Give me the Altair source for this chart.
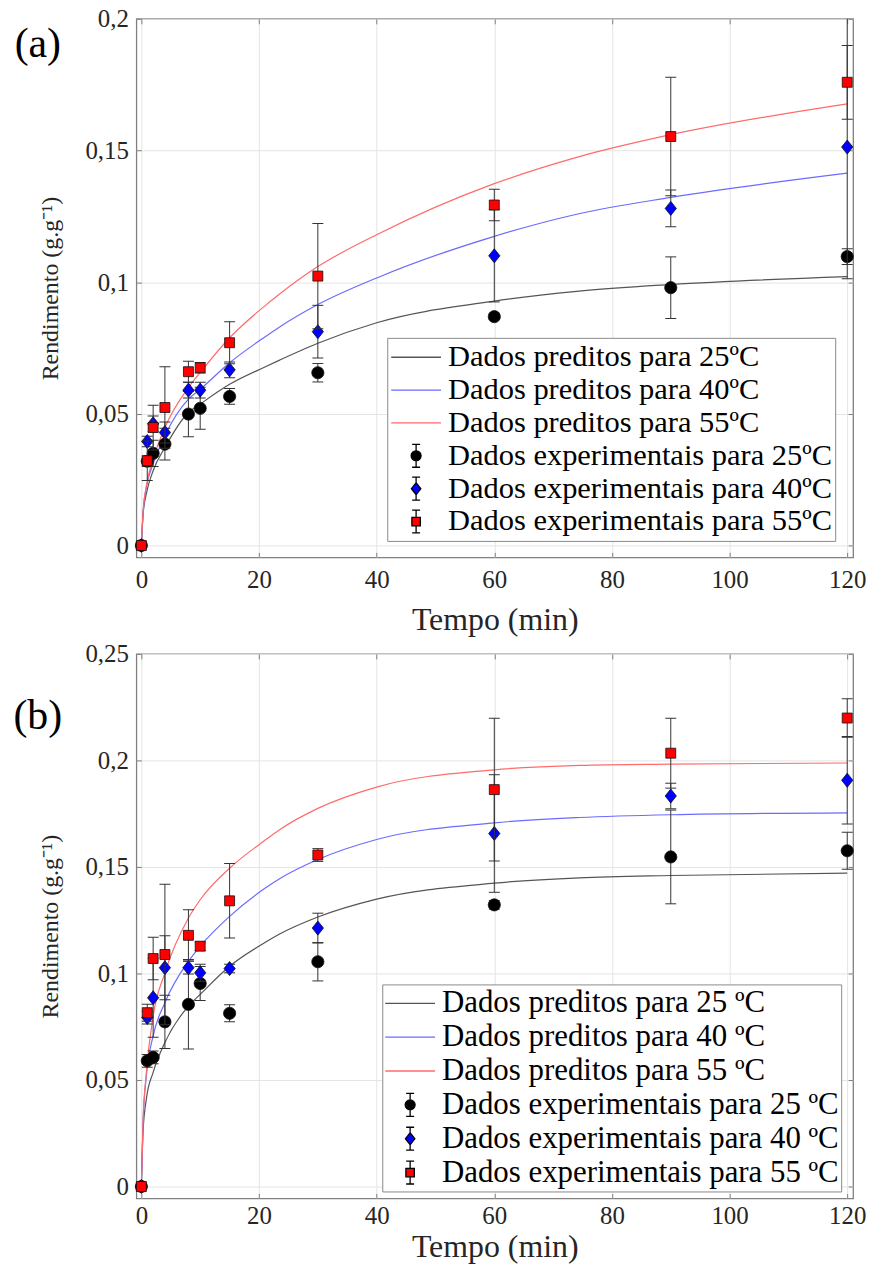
import altair as alt
import pandas as pd

FONT = "Liberation Serif"

# ---------------- data ----------------
t_exp = [0, 1, 2, 4, 8, 10, 15, 30, 60, 90, 120]

# panel (a)
a_exp_25 = [0, 0.032, 0.035, 0.0385, 0.0499, 0.0521, 0.0566, 0.0656, 0.0869, 0.0979, 0.1097]
a_err_25 = [0, 0.002, 0.005, 0.006, 0.0086, 0.008, 0.003, 0.0035, 0.001, 0.0117, 0.003]
a_exp_40 = [0, 0.0395, 0.0462, 0.0429, 0.059, 0.059, 0.0667, 0.0812, 0.110, 0.128, 0.1513]
a_err_40 = [0, 0.002, 0.003, 0.004, 0.003, 0.003, 0.003, 0.010, 0.0175, 0.007, 0.05]
a_exp_55 = [0, 0.0322, 0.0448, 0.0524, 0.066, 0.0675, 0.077, 0.1023, 0.1293, 0.1553, 0.1759]
a_err_55 = [0, 0.0075, 0.0085, 0.0155, 0.004, 0.002, 0.008, 0.020, 0.006, 0.0225, 0.014]

t_fit_a = [0, 0.3, 0.85, 2, 4, 8, 10, 15, 21, 23.5, 30, 40, 60, 74, 90, 120]
a_fit_25 = [0, 0.012, 0.0197, 0.0284, 0.0372, 0.0505, 0.0537, 0.0612, 0.0678, 0.0704, 0.0768, 0.0846, 0.0928, 0.0965, 0.0991, 0.1021]
a_fit_40 = [0, 0.013, 0.0221, 0.031, 0.0417, 0.0556, 0.0593, 0.0694, 0.0792, 0.0830, 0.0915, 0.1016, 0.1174, 0.1258, 0.1322, 0.1414]
a_fit_55 = [0, 0.013, 0.0227, 0.0328, 0.0448, 0.060, 0.0657, 0.0789, 0.0910, 0.0955, 0.1059, 0.118, 0.1374, 0.1474, 0.156, 0.1677]

# panel (b)
b_exp_25 = [0, 0.059, 0.0606, 0.0773, 0.0855, 0.0953, 0.0813, 0.1055, 0.1322, 0.1547, 0.1576]
b_err_25 = [0, 0.003, 0.003, 0.0125, 0.021, 0.008, 0.004, 0.009, 0.002, 0.022, 0.0087]
b_exp_40 = [0, 0.0793, 0.0886, 0.1027, 0.1027, 0.1003, 0.1023, 0.1213, 0.1657, 0.1833, 0.1907]
b_err_40 = [0, 0.003, 0.0185, 0.015, 0.003, 0.004, 0.002, 0.007, 0.0276, 0.006, 0.0205]
b_exp_55 = [0, 0.0816, 0.107, 0.1089, 0.1179, 0.1128, 0.1341, 0.1556, 0.1863, 0.2034, 0.2199]
b_err_55 = [0, 0.004, 0.010, 0.033, 0.012, 0.002, 0.0175, 0.003, 0.0335, 0.0164, 0.009]

t_fit_b = [0, 0.28, 0.85, 2, 4, 8, 10, 15, 21, 23.5, 30, 40, 60, 74.5, 90, 120]
b_fit_25 = [0, 0.0256, 0.0411, 0.0536, 0.0676, 0.0847, 0.0902, 0.1034, 0.1145, 0.1185, 0.1265, 0.1349, 0.1424, 0.1449, 0.146, 0.1471]
b_fit_40 = [0, 0.030, 0.052, 0.0707, 0.0863, 0.1057, 0.1128, 0.1268, 0.1400, 0.1445, 0.1535, 0.1629, 0.1707, 0.1732, 0.1745, 0.1754]
b_fit_55 = [0, 0.030, 0.0536, 0.080, 0.1003, 0.126, 0.1346, 0.1494, 0.1625, 0.1675, 0.1775, 0.1875, 0.1956, 0.1977, 0.1983, 0.1988]

a_pred_labels = ["Dados preditos para 25ºC", "Dados preditos para 40ºC", "Dados preditos para 55ºC"]
a_exp_labels = ["Dados experimentais para 25ºC", "Dados experimentais para 40ºC", "Dados experimentais para 55ºC"]
b_pred_labels = ["Dados preditos para 25 ºC", "Dados preditos para 40 ºC", "Dados preditos para 55 ºC"]
b_exp_labels = ["Dados experimentais para 25 ºC", "Dados experimentais para 40 ºC", "Dados experimentais para 55 ºC"]

x_ticks = [0, 20, 40, 60, 80, 100, 120]
a_y_ticks = [0, 0.05, 0.1, 0.15, 0.2]
b_y_ticks = [0, 0.05, 0.1, 0.15, 0.2, 0.25]

# ---------------- styles ----------------
LINE_COLORS = ["#555555", "#6b6bff", "#ff6b6b"]
MARK_FILLS = ["#000000", "#0000ff", "#ff0000"]
MARK_SHAPES = ["circle", "M-0.8,0L0,-1L0.8,0L0,1Z", "square"]
MARK_SIZES = [150, 200, 100]
LEG_SHAPES = [
    "M0,-0.46V-0.2M0,0.2V0.46M-0.16,-0.46H0.16M-0.16,0.46H0.16M-0.2,0A0.2,0.2,0,1,1,0.2,0A0.2,0.2,0,1,1,-0.2,0Z",
    "M0,-0.46V-0.24M0,0.24V0.46M-0.16,-0.46H0.16M-0.16,0.46H0.16M0,-0.24L0.19,0L0,0.24L-0.19,0Z",
    "M0,-0.46V-0.17M0,0.17V0.46M-0.16,-0.46H0.16M-0.16,0.46H0.16M-0.17,-0.17H0.17V0.17H-0.17Z",
]
BAR_COLOR = "#333333"
TXT = "#262626"
FRAME = "#808080"
GRID = "#e4e4e4"


def panel(tag, t_fit, fits, exps, errs, pred_labels, exp_labels, ydom, yticks,
          height, leg_x, leg_y, clip_h, leg_pad, leg_font, tag_y, x_lab_pad, x_title_pad):
    fit_rows = []
    for lab, ys in zip(pred_labels, fits):
        for t, y in zip(t_fit, ys):
            fit_rows.append({"t": t, "y": y, "label": lab})
    fit_df = pd.DataFrame(fit_rows)

    pt_rows = []
    for k, (lab, ys, es) in enumerate(zip(exp_labels, exps, errs)):
        for t, y, e in zip(t_exp, ys, es):
            pt_rows.append({"t": t, "y": y, "lo": y - e, "hi": y + e, "label": lab, "s": k})
    pt_df = pd.DataFrame(pt_rows)

    domain = pred_labels + exp_labels
    stroke_scale = alt.Scale(domain=domain, range=LINE_COLORS + ["black"] * 3)
    fill_scale = alt.Scale(domain=domain, range=["transparent"] * 3 + MARK_FILLS)
    shape_scale = alt.Scale(domain=domain, range=["stroke"] * 3 + LEG_SHAPES)

    leg = alt.Legend(
        title=None, orient="none", legendX=leg_x, legendY=leg_y, direction="vertical",
        labelFont=FONT, labelFontSize=leg_font, labelColor="black", labelLimit=700, labelOffset=6,
        symbolSize=2500, symbolStrokeWidth=1.3, symbolFillColor="white", symbolStrokeColor="black",
        clipHeight=clip_h, rowPadding=0, padding=leg_pad, strokeColor="#8a8a8a", fillColor="white",
    )

    xs = alt.Scale(domain=[-0.85, 121], nice=False, zero=False)
    ys_ = alt.Scale(domain=ydom, nice=False, zero=False)

    x_main = alt.X("t:Q", scale=xs,
                   axis=alt.Axis(orient="bottom", values=x_ticks, format="d", title="Tempo (min)",
                                 grid=True, gridColor=GRID, ticks=True, tickSize=5, tickColor=FRAME,
                                 tickWidth=1, offset=-5, domain=False, labelFlush=False,
                                 labelOverlap=False, labelFont=FONT, labelFontSize=25, labelColor=TXT,
                                 labelPadding=x_lab_pad, titleFont=FONT, titleFontSize=32,
                                 titleFontWeight="normal", titleColor=TXT, titlePadding=x_title_pad))
    y_main = alt.Y("y:Q", scale=ys_,
                   axis=alt.Axis(orient="left", values=yticks,
                                 labelExpr="replace(format(datum.value, '~g'), '.', ',')",
                                 title="Rendimento (g.g⁻¹)", grid=True, gridColor=GRID, ticks=True,
                                 tickSize=5, tickColor=FRAME, tickWidth=1, offset=-5, domain=False,
                                 labelFlush=False, labelOverlap=False, labelFont=FONT,
                                 labelFontSize=25, labelColor=TXT, labelPadding=8, titleFont=FONT,
                                 titleFontSize=24, titleFontWeight="normal", titleColor=TXT,
                                 titlePadding=22))
    x_top = alt.X("t:Q", scale=xs,
                  axis=alt.Axis(orient="top", values=x_ticks, labels=False, title=None, grid=False,
                                ticks=True, tickSize=5, tickColor=FRAME, tickWidth=1, offset=-5,
                                domain=False))
    y_right = alt.Y("y:Q", scale=ys_,
                    axis=alt.Axis(orient="right", values=yticks, labels=False, title=None, grid=False,
                                  ticks=True, tickSize=5, tickColor=FRAME, tickWidth=1, offset=-5,
                                  domain=False))
    x = alt.X("t:Q", scale=xs, axis=None)
    y = alt.Y("y:Q", scale=ys_, axis=None)
    y_lo = alt.Y("lo:Q", scale=ys_, axis=None)
    y_hi = alt.Y("hi:Q", scale=ys_, axis=None)

    layers = []
    # legend carrier + main axes (no visible marks)
    layers.append(
        alt.Chart(pt_df).transform_filter("false").mark_point(filled=True, opacity=1).encode(
            x=x_main, y=y_main,
            fill=alt.Fill("label:N", scale=fill_scale, legend=leg),
            stroke=alt.Stroke("label:N", scale=stroke_scale, legend=leg),
            shape=alt.Shape("label:N", scale=shape_scale, legend=leg),
        )
    )
    # mirrored tick marks on the top and right edges (no visible marks)
    layers.append(
        alt.Chart(pt_df).transform_filter("false").mark_point(opacity=1).encode(x=x_top, y=y_right)
    )
    # predicted curves
    layers.append(
        alt.Chart(fit_df).mark_line(strokeWidth=1.2, interpolate="monotone").encode(
            x=x, y=y, stroke=alt.Stroke("label:N", scale=stroke_scale, legend=leg)
        )
    )
    # experimental points with error bars
    for k in range(3):
        d = pt_df[pt_df["s"] == k]
        base = alt.Chart(d)
        layers.append(base.mark_rule(color=BAR_COLOR, strokeWidth=1, clip=True).encode(
            x=x, y=y_lo, y2=alt.Y2("hi:Q")))
        layers.append(base.mark_tick(orient="horizontal", size=11, thickness=1, color=BAR_COLOR,
                                     opacity=1, clip=True).encode(x=x, y=y_lo))
        layers.append(base.mark_tick(orient="horizontal", size=11, thickness=1, color=BAR_COLOR,
                                     opacity=1, clip=True).encode(x=x, y=y_hi))
        layers.append(base.mark_point(shape=MARK_SHAPES[k], filled=True, fill=MARK_FILLS[k],
                                      stroke="#111111", strokeWidth=0.8, size=MARK_SIZES[k],
                                      opacity=1).encode(x=x, y=y))
    # panel tag
    layers.append(
        alt.Chart(pd.DataFrame({"tag": [tag]})).mark_text(
            font=FONT, fontSize=42, align="center", baseline="middle", color="black"
        ).encode(x=alt.value(-99), y=alt.value(tag_y), text="tag:N")
    )
    return (alt.layer(*layers)
            .resolve_axis(x="independent", y="independent")
            .properties(width=720, height=height))


pa = panel("(a)", t_fit_a, [a_fit_25, a_fit_40, a_fit_55], [a_exp_25, a_exp_40, a_exp_55],
           [a_err_25, a_err_40, a_err_55], a_pred_labels, a_exp_labels,
           [-0.0045, 0.2], a_y_ticks, 541, 252, 320.5, 33, 3, 30.6, 25, 10, 12)
pb = panel("(b)", t_fit_b, [b_fit_25, b_fit_40, b_fit_55], [b_exp_25, b_exp_40, b_exp_55],
           [b_err_25, b_err_40, b_err_55], b_pred_labels, b_exp_labels,
           [-0.0056, 0.25], b_y_ticks, 547, 247, 332, 34, 2, 31, 62, 5, 3)

chart = (
    alt.vconcat(pa, pb, spacing=5)
    .resolve_scale(fill="independent", stroke="independent", shape="independent")
    .resolve_legend(fill="independent", stroke="independent", shape="independent")
    .properties(padding={"left": 12, "top": 3, "right": 10, "bottom": 5}, background="white")
    .configure(font=FONT)
    .configure_axis(labelFont=FONT, titleFont=FONT)
    .configure_legend(labelFont=FONT)
    .configure_text(font=FONT)
    .configure_view(stroke=FRAME, strokeWidth=1.3)
)

chart.save("out.html", embed_options={"renderer": "svg", "actions": False})
